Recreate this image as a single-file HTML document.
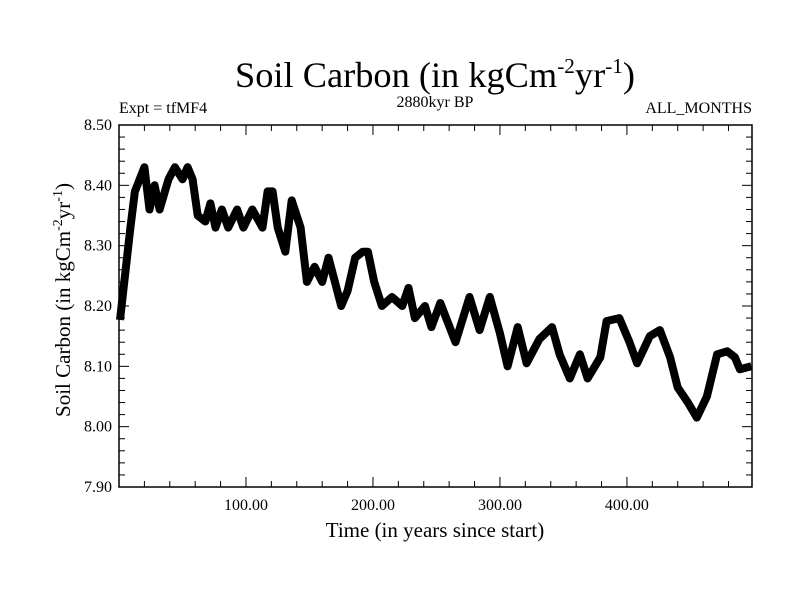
<!DOCTYPE html>
<html><head><meta charset="utf-8"><style>
body{margin:0;background:#fff;}
svg{display:block;font-family:"Liberation Serif",serif;}
</style></head><body>
<svg id="chart" width="800" height="600">
<text x="435" y="87" font-size="36" text-anchor="middle" textLength="400" lengthAdjust="spacingAndGlyphs">Soil Carbon (in kgCm<tspan dy="-14" font-size="21">-2</tspan><tspan dy="14">yr</tspan><tspan dy="-14" font-size="21">-1</tspan><tspan dy="14">)</tspan></text>
<text x="119" y="113" font-size="16">Expt = tfMF4</text>
<text x="435" y="107" font-size="16" text-anchor="middle">2880kyr BP</text>
<text x="752" y="113" font-size="16" text-anchor="end">ALL_MONTHS</text>
<text x="435" y="537" font-size="21" text-anchor="middle">Time (in years since start)</text>
<text transform="translate(70,300) rotate(-90)" font-size="21" text-anchor="middle">Soil Carbon (in kgCm<tspan dy="-8" font-size="14">-2</tspan><tspan dy="8">yr</tspan><tspan dy="-8" font-size="14">-1</tspan><tspan dy="8">)</tspan></text>
<g id="ticks"></g>
<path id="series" fill="none" stroke="#000" stroke-width="8" stroke-linejoin="round"></path>
<rect x="119" y="125" width="633" height="362" fill="none" stroke="#000" stroke-width="1.5"></rect>
</svg>
<script>
const years=[0.8,9,12.5,20,24,28,32,39,44,50,54,58,62,68,72,76,81,86,93,98,105,113,117,121,125,131,136,143,148,154,160,165,170,175,180,186,192,196,201,207,215,223,228,233,241,246,253,265,276,284,292,300,306,314,321,331,341,347,355,363,369,379,384,394,402,408,418,426,434,440,448,455,463,471,479,485,489,498];
const values=[8.177,8.33,8.39,8.43,8.36,8.40,8.36,8.41,8.43,8.41,8.43,8.41,8.35,8.34,8.37,8.33,8.36,8.33,8.36,8.33,8.36,8.33,8.39,8.39,8.33,8.29,8.375,8.33,8.24,8.265,8.24,8.28,8.24,8.20,8.225,8.28,8.29,8.29,8.24,8.20,8.215,8.20,8.23,8.18,8.20,8.165,8.205,8.14,8.215,8.16,8.215,8.155,8.10,8.165,8.105,8.145,8.165,8.12,8.08,8.12,8.08,8.115,8.175,8.18,8.14,8.105,8.15,8.16,8.115,8.065,8.04,8.015,8.05,8.12,8.125,8.115,8.095,8.10];
const xTickLabels=["100.00","200.00","300.00","400.00"];
const xTickValues=[100,200,300,400];
const yTickLabels=["7.90","8.00","8.10","8.20","8.30","8.40","8.50"];
const yTickValues=[7.9,8.0,8.1,8.2,8.3,8.4,8.5];
const L=119,R=752,T=125,B=487,X0=0,X1=498.5,Y0=7.9,Y1=8.5;
const sx=v=>L+(v-X0)/(X1-X0)*(R-L);
const sy=v=>B-(v-Y0)/(Y1-Y0)*(B-T);
const NS="http://www.w3.org/2000/svg";
const g=document.getElementById('ticks');
function line(x1,y1,x2,y2,name){const l=document.createElementNS(NS,'line');
l.setAttribute('x1',x1);l.setAttribute('y1',y1);l.setAttribute('x2',x2);l.setAttribute('y2',y2);l.setAttribute('stroke','#000');


g.appendChild(l);}
function text(x,y,s,anchor,name){const t=document.createElementNS(NS,'text');
t.setAttribute('x',x);t.setAttribute('y',y);t.setAttribute('font-size','16');t.setAttribute('text-anchor',anchor);t.textContent=s;


g.appendChild(t);}
for(let v=20;v<X1;v+=20){const x=sx(v);const major=v%100===0;const len=major?10:6;
line(x,B,x,B-len,'x-tick');line(x,T,x,T+len,'x-tick-top');}
xTickValues.forEach((v,i)=>text(sx(v),510,xTickLabels[i],'middle','x-tick-label'));
for(let k=0;k<=30;k++){const v=Y0+k*0.02;const y=sy(v);const len=(k%5===0)?10:6;
line(L,y,L+len,y,'y-tick');line(R,y,R-len,y,'y-tick-right');}
yTickValues.forEach((v,i)=>text(112,sy(v)+5,yTickLabels[i],'end','y-tick-label'));
document.getElementById('series').setAttribute('d',years.map((y,i)=>(i?'L':'M')+sx(y).toFixed(1)+','+sy(values[i]).toFixed(1)).join(''));
</script>
</body></html>
